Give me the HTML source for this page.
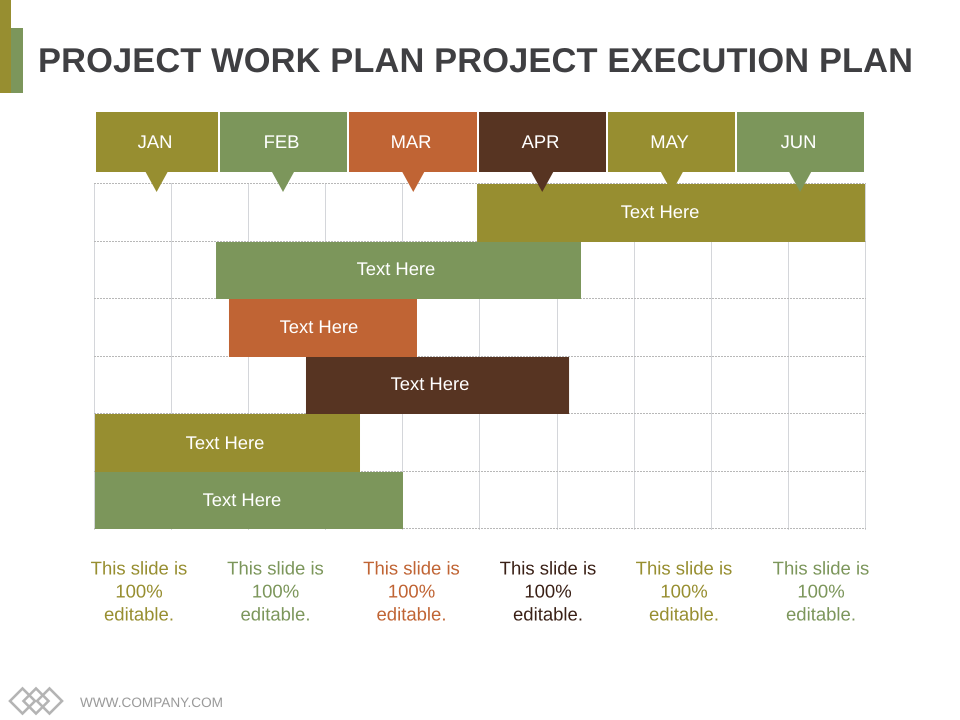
<!DOCTYPE html>
<html>
<head>
<meta charset="utf-8">
<style>
html,body{margin:0;padding:0;background:#fff;width:960px;height:720px;overflow:hidden}
svg{display:block;font-family:"Liberation Sans",sans-serif;text-rendering:geometricPrecision}
</style>
</head>
<body>
<svg id="slide" width="960" height="720" viewBox="0 0 960 720" xmlns="http://www.w3.org/2000/svg">
  <rect x="11" y="28" width="12" height="65" fill="#7c965b"/>
  <rect x="0" y="0" width="11" height="93" fill="#978e30"/>
  <text x="38" y="72" font-size="34.4" font-weight="bold" fill="#3f3f42" textLength="875" lengthAdjust="spacing">PROJECT WORK PLAN PROJECT EXECUTION PLAN</text>
  <g id="grid"></g>
  <g id="bars"></g>
  <g id="months"></g>
  <g id="captions"></g>
  <g fill="none" stroke="#b4b4b4" stroke-width="2.6">
    <path d="M10 701 L22.5 688.5 L35 701 L22.5 713.5 Z"/>
    <path d="M23.5 701 L36 688.5 L48.5 701 L36 713.5 Z"/>
    <path d="M37 701 L49.5 688.5 L62 701 L49.5 713.5 Z"/>
  </g>
  <text x="80" y="707" font-size="13.6" fill="#9a9a9a">WWW.COMPANY.COM</text>
</svg>
<script>
var months = ['JAN', 'FEB', 'MAR', 'APR', 'MAY', 'JUN'];
var monthColors = ['#978e30', '#7c965b', '#c06434', '#573422', '#978e30', '#7c965b'];
var pointerAt = [0.48, 1.465, 2.48, 3.485, 4.495, 5.495];
var taskLabels = ['Text Here', 'Text Here', 'Text Here', 'Text Here', 'Text Here', 'Text Here'];
var taskStart = [2.977, 0.943, 1.044, 1.644, 0, 0];
var taskEnd = [6, 3.787, 2.509, 3.694, 2.065, 2.4];
var taskLabelAt = [4.403, 2.345, 1.745, 2.61, 1.013, 1.145];
var taskColors = ['#978e30', '#7c965b', '#c06434', '#573422', '#978e30', '#7c965b'];
var captionLines = ['This slide is', '100%', 'editable.'];
var captionColors = ['#978e30', '#7c965b', '#c06434', '#3a2016', '#978e30', '#7c965b'];

var NS = 'http://www.w3.org/2000/svg';
var plotLeft = 95, plotRight = 865, plotTop = 184, plotBottom = 529;
var rowCount = taskStart.length;
var divisions = 10;
var labelBaselineOffsets = [34, 33, 34, 33, 35, 34];
function xAt(m) { return plotLeft + m * (plotRight - plotLeft) / months.length; }
function yAt(r) { return plotTop + r * (plotBottom - plotTop) / rowCount; }
function make(tag, attrs, parent) {
  var el = document.createElementNS(NS, tag);
  for (var k in attrs) el.setAttribute(k, attrs[k]);
  parent.appendChild(el);
  return el;
}

var grid = document.getElementById('grid');
for (var i = 0; i <= divisions; i++) {
  var gx = Math.floor(94.6 + i * 77.07) + 0.5;
  var vline = make('line', {x1: gx, x2: gx, y1: plotTop - 1, y2: plotBottom + 1, stroke: '#d4d6da', 'stroke-width': 1}, grid);
  
  
}
for (var j = 0; j <= rowCount; j++) {
  var gy = Math.round(yAt(j)) - 0.5;
  var hline = make('line', {x1: plotLeft - 1, x2: plotRight + 1, y1: gy, y2: gy, stroke: '#b8b8b8', 'stroke-width': 1, 'stroke-dasharray': '2 1'}, grid);
  
  
}

var bars = document.getElementById('bars');
taskStart.forEach(function (s, r) {
  var top = Math.round(yAt(r));
  var bottom = Math.round(yAt(r + 1));
  var bar = make('rect', {x: xAt(s), y: top, width: xAt(taskEnd[r]) - xAt(s), height: bottom - top, fill: taskColors[r]}, bars);
  
  
  var label = make('text', {x: xAt(taskLabelAt[r]), y: top + labelBaselineOffsets[r], 'text-anchor': 'middle', 'font-size': 18.4, fill: '#ffffff'}, bars);
  
  
  label.textContent = taskLabels[r];
});

var headerEdges = [96, 220, 349, 479, 608, 737];
var headerEnds = [218, 347, 477, 606, 735, 864];
var headers = document.getElementById('months');
months.forEach(function (m, i) {
  var box = make('rect', {x: headerEdges[i], y: 112, width: headerEnds[i] - headerEdges[i], height: 60, fill: monthColors[i]}, headers);
  
  
  var tip = xAt(pointerAt[i]);
  var pointer = make('path', {d: 'M' + (tip - 11) + ' 172 L' + (tip + 11) + ' 172 L' + tip + ' 192 Z', fill: monthColors[i]}, headers);
  
  
  var text = make('text', {x: (headerEdges[i] + headerEnds[i]) / 2 - 2, y: 148, 'text-anchor': 'middle', 'font-size': 18.4, fill: '#ffffff'}, headers);
  
  
  text.textContent = m;
});

var captionCenters = [139, 275.5, 411.5, 548, 684, 821];
var captions = document.getElementById('captions');
captionColors.forEach(function (c, i) {
  var caption = make('text', {'text-anchor': 'middle', 'font-size': 18.5, fill: c}, captions);
  
  
  captionLines.forEach(function (line, n) {
    var span = make('tspan', {x: captionCenters[i], y: 574.5 + n * 23}, caption);
    span.textContent = line;
  });
});
</script>
</body>
</html>
